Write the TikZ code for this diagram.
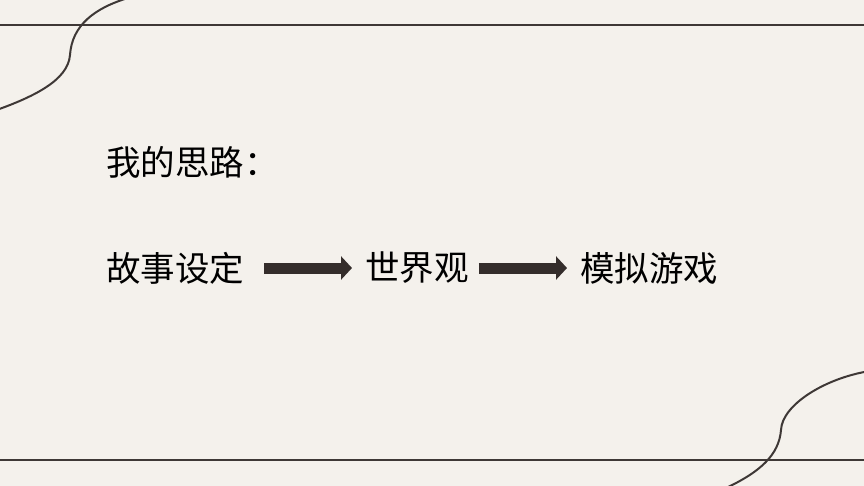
\documentclass[tikz,border=0pt]{standalone}
\usepackage{fontspec}
\newfontfamily\cjk{Noto Sans CJK SC}
\usepackage{xcolor}
\usetikzlibrary{calc, arrows.meta}

\definecolor{paper}{HTML}{F4F1EC}
\definecolor{ink}{HTML}{3E3836}
\definecolor{arrowfill}{HTML}{342D2B}

\tikzset{
  frameline/.style={draw=ink, line width=2pt},
  swirl/.style={draw=ink, line width=2pt, line cap=round},
  label/.style={font=\cjk\fontsize{34.5}{40}\selectfont, inner sep=0pt, anchor=west},
  flow/.style={draw=arrowfill, line width=11pt,
    -{Triangle[length=11pt, width=23pt]}},
}

\begin{document}
\begin{tikzpicture}[x=1pt, y=-1pt]
      % page
      \fill[paper] (0,0) rectangle (864,486);%
      \useasboundingbox (0,0) rectangle (864,486);%

      % frame lines
      \coordinate (TL) at (0,25);%
      \coordinate (TR) at (864,25);%
      \coordinate (BL) at (0,460);%
      \coordinate (BR) at (864,460);%
      \draw[frameline] (TL) -- (TR);%
      \draw[frameline] (BL) -- (BR);%

      % swirls
      \draw[swirl] (-12,113) .. controls (35,97) and (68,80) .. (70,55)
                   .. controls (72,25) and (95,8) .. (128,-2);%
      \draw[swirl] (726,488) .. controls (760,472) and (779,455) .. (781,430)
                   .. controls (782,405) and (825,378) .. (870,371);%

      % texts
      \node[label] (title) at (106,162) {我的思路：};%
      \node[label] (story) at (106,268) {故事设定};%
      \node[label] (world) at (365,268) {世界观};%
      \node[label] (game)  at (580,268) {模拟游戏};%

      % arrows
      \draw[flow, shorten <=20pt, shorten >=13pt] (story.east) -- (world.west);%
      \draw[flow, shorten <=10pt, shorten >=13pt] (world.east) -- (game.west);%
    \end{tikzpicture}
\end{document}
